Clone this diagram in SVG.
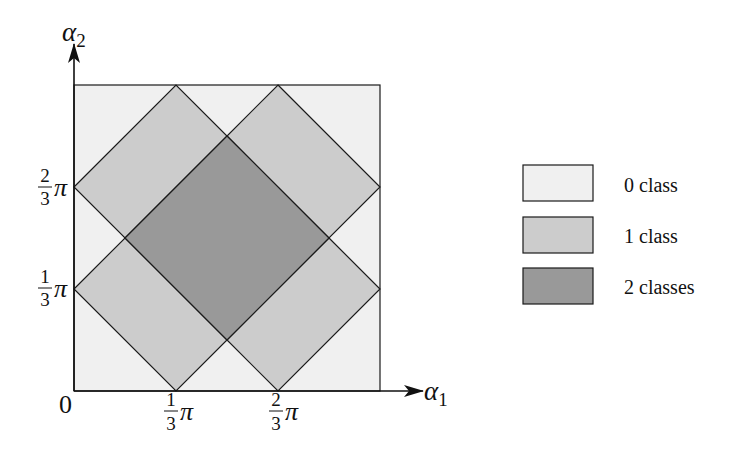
<svg xmlns="http://www.w3.org/2000/svg" width="746" height="457" viewBox="0 0 746 457">
<defs>
<marker id="ah" viewBox="0 0 20 12" refX="19" refY="6" markerWidth="20" markerHeight="12" markerUnits="userSpaceOnUse" orient="auto">
<path d="M0,0 L20,6 L0,12 L5,6 Z" fill="#111"/>
</marker>
</defs>
<rect width="746" height="457" fill="#fff"/>
<g id="plot" stroke="#1a1a1a" stroke-width="1.2">
<rect x="74" y="85" width="306" height="306" fill="#f0f0f0"/>
<g fill="#cccccc">
<polygon points="74,187 176,85 227,136 125,238"/>
<polygon points="278,85 380,187 329,238 227,136"/>
<polygon points="74,289 125,238 227,340 176,391"/>
<polygon points="329,238 380,289 278,391 227,340"/>
</g>
<polygon points="227,136 329,238 227,340 125,238" fill="#999999"/>
</g>
<g id="axes" stroke="#111" stroke-width="1.6" fill="none">
<line x1="74" y1="391" x2="423" y2="391" marker-end="url(#ah)"/>
<line x1="74" y1="391" x2="74" y2="44" marker-end="url(#ah)"/>
</g>
<g id="labels" fill="#111">
<text x="62" y="41" font-family="Liberation Serif" font-size="27" font-style="italic">α<tspan font-style="normal" font-size="19" dy="6">2</tspan></text>
<text x="424" y="400" font-family="Liberation Serif" font-size="27" font-style="italic">α<tspan font-style="normal" font-size="19" dy="6">1</tspan></text>
<text x="59" y="413" font-family="Liberation Serif" font-size="26">0</text>
<text x="171" y="406" font-family="Liberation Serif" font-size="19" text-anchor="middle">1</text>
<line x1="164" y1="411" x2="178" y2="411" stroke="#111" stroke-width="1"/>
<text x="171" y="430" font-family="Liberation Serif" font-size="19" text-anchor="middle">3</text>
<text x="180" y="420" font-family="Liberation Serif" font-size="26" font-style="italic">π</text>
<text x="276" y="406" font-family="Liberation Serif" font-size="19" text-anchor="middle">2</text>
<line x1="269" y1="411" x2="283" y2="411" stroke="#111" stroke-width="1"/>
<text x="276" y="430" font-family="Liberation Serif" font-size="19" text-anchor="middle">3</text>
<text x="285" y="420" font-family="Liberation Serif" font-size="26" font-style="italic">π</text>
<text x="45" y="182" font-family="Liberation Serif" font-size="19" text-anchor="middle">2</text>
<line x1="38" y1="187" x2="52" y2="187" stroke="#111" stroke-width="1"/>
<text x="45" y="205" font-family="Liberation Serif" font-size="19" text-anchor="middle">3</text>
<text x="54" y="196" font-family="Liberation Serif" font-size="26" font-style="italic">π</text>
<text x="45" y="283" font-family="Liberation Serif" font-size="19" text-anchor="middle">1</text>
<line x1="38" y1="288" x2="52" y2="288" stroke="#111" stroke-width="1"/>
<text x="45" y="306" font-family="Liberation Serif" font-size="19" text-anchor="middle">3</text>
<text x="54" y="297" font-family="Liberation Serif" font-size="26" font-style="italic">π</text>
</g>
<g id="legend-0">
<rect x="523" y="165" width="70" height="36" fill="#f0f0f0" stroke="#1a1a1a" stroke-width="1.2"/>
<text x="624" y="192" font-family="Liberation Serif" font-size="20" fill="#111">0 class</text>
</g>
<g id="legend-1">
<rect x="523" y="217" width="70" height="36" fill="#cccccc" stroke="#1a1a1a" stroke-width="1.2"/>
<text x="624" y="243" font-family="Liberation Serif" font-size="20" fill="#111">1 class</text>
</g>
<g id="legend-2">
<rect x="523" y="268" width="70" height="36" fill="#999999" stroke="#1a1a1a" stroke-width="1.2"/>
<text x="624" y="294" font-family="Liberation Serif" font-size="20" fill="#111">2 classes</text>
</g>
</svg>
